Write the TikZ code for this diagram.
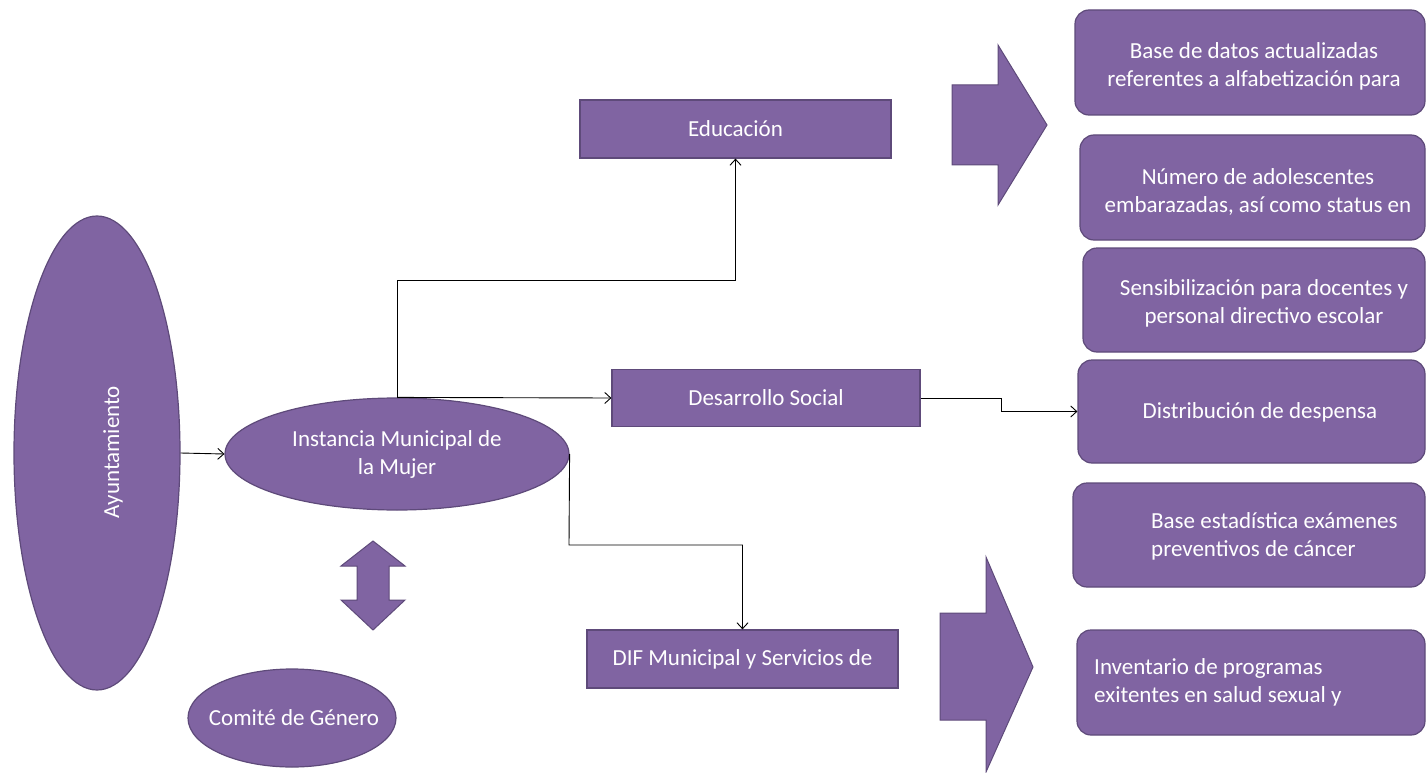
\documentclass[tikz,border=0pt]{standalone}
\usepackage{fontspec}
\setmainfont{Carlito}
\usetikzlibrary{arrows.meta,shapes.geometric}
\definecolor{pur}{HTML}{8064A2}
\definecolor{purd}{HTML}{5E4A7A}
\begin{document}
\begin{tikzpicture}[x=1pt,y=-1pt,
  shapefill/.style={fill=pur,draw=purd,line width=1.2pt},
  sqbox/.style={shapefill,rectangle,inner sep=0pt,text=white,font=\fontsize{23}{28}\selectfont},
  rbox/.style={shapefill,rectangle,rounded corners=14pt,inner sep=0pt},
  oval/.style={shapefill,ellipse,inner sep=0pt,text=white,font=\fontsize{23}{28}\selectfont,align=center},
  lbl/.style={text=white,font=\fontsize{23}{28}\selectfont,align=center,inner sep=0pt},
  conn/.style={draw=black,line width=0.9pt,-{Straight Barb[length=6pt,width=11pt]}},
  bigarrow/.style={fill=pur,draw=purd,line width=1pt,line join=miter},
]
\useasboundingbox (0,0) rectangle (1427,773);

% left ellipses
\node[oval,minimum width=166pt,minimum height=474pt] (ayu) at (97,453) {};
\node[lbl,rotate=90] (ayut) at (113,452) {Ayuntamiento};
\node[oval,minimum width=344pt,minimum height=112pt] (inst) at (397,454) {Instancia Municipal de\\la Mujer};
\node[oval,minimum width=208pt,minimum height=98pt] (com) at (292,718) {};
\node[lbl] (comt) at (294,718) {Comité de Género};

% double arrow
\draw[bigarrow] (373,541) -- (405,566) -- (389,566) -- (389,600) -- (405,600) -- (373,630)
  -- (341,600) -- (357,600) -- (357,566) -- (341,566) -- cycle;

% middle boxes
\node[sqbox,minimum width=311pt,minimum height=58pt] (edu) at (735.5,129) {Educación};
\node[sqbox,minimum width=308pt,minimum height=57pt] (des) at (766,398) {Desarrollo Social};
\node[sqbox,minimum width=311pt,minimum height=58pt] (dif) at (742.5,659) {DIF Municipal y Servicios de};

% big arrows
\draw[bigarrow] (952,85) -- (998,85) -- (998,45) -- (1047,125) -- (998,205) -- (998,165) -- (952,165) -- cycle;
\draw[bigarrow] (940,613) -- (986,613) -- (986,557) -- (1033,667) -- (986,772) -- (986,720) -- (940,720) -- cycle;

% right boxes
\node[rbox,minimum width=350pt,minimum height=105pt] (b1) at (1250,62.5) {};
\node[rbox,minimum width=345pt,minimum height=105pt] (b2) at (1252.5,187.5) {};
\node[rbox,minimum width=342pt,minimum height=104pt] (b3) at (1254,300) {};
\node[rbox,minimum width=347pt,minimum height=103pt] (dist) at (1251.5,411.5) {};
\node[rbox,minimum width=352pt,minimum height=104pt] (b5) at (1249,535) {};
\node[rbox,minimum width=348pt,minimum height=105pt] (b6) at (1251,682.5) {};

\node[lbl] (t1) at (1254,66) {Base de datos actualizadas\\referentes a alfabetización para};
\node[lbl] (t2) at (1258,192) {Número de adolescentes\\embarazadas, así como status en};
\node[lbl] (t3) at (1264,303) {Sensibilización para docentes y\\personal directivo escolar};
\node[lbl] (t4) at (1260,412) {Distribución de despensa};
\node[lbl,anchor=west,align=left] (t5) at (1151,536) {Base estadística exámenes\\preventivos de cáncer};
\node[lbl,anchor=west,align=left] (t6) at (1094,682) {Inventario de programas\\exitentes en salud sexual y};

% connectors
\coordinate (j1) at (397,280);
\coordinate (j3) at (569,545);
\coordinate (j4) at (1001,398);
\draw[conn] (ayu.east) -- (inst.west);
\draw[conn] (inst.north) -- (j1) -| (edu.south);
\draw[conn] (inst.north) -- (des.west);
\draw[conn] (inst.east) -- (j3) -| (dif.north);
\draw[conn] (des.east) -- (j4) |- (dist.west);
\end{tikzpicture}
\end{document}
